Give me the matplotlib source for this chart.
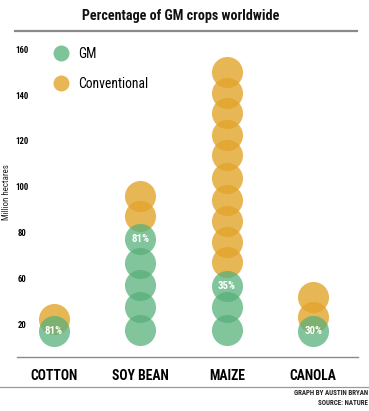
import matplotlib
matplotlib.use("Agg")
import matplotlib.pyplot as plt
from matplotlib import font_manager as fm
from matplotlib.lines import Line2D

# ---------------- data ----------------
categories = ["COTTON", "SOY BEAN", "MAIZE", "CANOLA"]
# heights (million hectares, on the chart's scale) of each stacked circle
conventional_circles = [
    [42],
    [96, 87],
    [150, 141, 132, 122.5, 114, 104, 94, 85, 76, 67],
    [52, 43],
]
gm_circles = [
    [37],
    [77, 66.5, 57, 47.5, 37.5],
    [56.5, 47.5, 37.5],
    [37],
]
gm_share_labels = ["81%", "81%", "35%", "30%"]
ytick_values = [160, 140, 120, 100, 80, 60, 40]
ytick_labels = ["160", "140", "120", "100", "80", "60", "20"]
title = "Percentage of GM crops worldwide"
ylabel = "Million hectares"
legend_labels = ["GM", "Conventional"]
credits = ["GRAPH BY AUSTIN BRYAN", "SOURCE: NATURE"]

# ---------------- font ----------------
names = {f.name for f in fm.fontManager.ttflist}
FONT = "DejaVu Sans"
STRETCH = "normal"
for cand in ["Liberation Sans Narrow", "DejaVu Sans Condensed", "Roboto Condensed",
             "Open Sans Condensed"]:
    if cand in names:
        FONT = cand
        break
else:
    if any(f.name == "DejaVu Sans" and f.stretch == "condensed" for f in fm.fontManager.ttflist):
        STRETCH = "condensed"
plt.rcParams["font.family"] = [FONT, "DejaVu Sans"]
plt.rcParams["font.stretch"] = STRETCH

# ---------------- colours ----------------
GREEN = (88 / 255, 176 / 255, 122 / 255)
ORANGE = (226 / 255, 164 / 255, 43 / 255)
GREEN_A = 0.75
ORANGE_A = 0.8
GREEN_SOLID = "#7fc499"
ORANGE_SOLID = "#e8b655"

W, H = 369, 411
fig = plt.figure(figsize=(W / 100, H / 100), dpi=100)

def fx(px):
    return px / W

def fy(py):
    return 1 - py / H

ax = fig.add_axes([0, fy(357), 1, (357 - 40) / H])
ax.set_xlim(-0.625, 3.646)
ax.set_ylim(25.6, 164.1)

marker_size = 500
for i, cat in enumerate(categories):
    conv = conventional_circles[i]
    ax.scatter([i] * len(conv), conv, s=marker_size, color=ORANGE, alpha=ORANGE_A,
               linewidths=0, zorder=2)
for i, cat in enumerate(categories):
    gm = gm_circles[i]
    ax.scatter([i] * len(gm), gm, s=marker_size, color=GREEN, alpha=GREEN_A,
               linewidths=0, zorder=3)
    ax.text(i, max(gm), gm_share_labels[i], ha="center", va="center", color="white",
            fontsize=7.8, fontweight="bold", zorder=4)

# axes styling
for side in ["top", "right", "left"]:
    ax.spines[side].set_visible(False)
ax.spines["bottom"].set_color("#8a8a8a")
ax.spines["bottom"].set_linewidth(1.0)
ax.spines["bottom"].set_bounds(-0.428, 3.519)

ax.set_xticks(range(len(categories)))
ax.set_xticklabels(categories, fontsize=9.8, fontweight="bold")
ax.tick_params(axis="x", length=0, pad=13.5)
plt.setp(ax.get_xticklabels(), va="center")

ax.set_yticks(ytick_values)
ax.set_yticklabels(ytick_labels, fontsize=6.3, fontweight="bold")
ax.tick_params(axis="y", length=0, pad=-22 * 0.72)
plt.setp(ax.get_yticklabels(), ha="center")

# legend
handles = [
    Line2D([], [], marker="o", linestyle="none", markersize=11.5,
           markerfacecolor=GREEN_SOLID, markeredgewidth=0),
    Line2D([], [], marker="o", linestyle="none", markersize=11.5,
           markerfacecolor=ORANGE_SOLID, markeredgewidth=0),
]
leg = ax.legend(handles, legend_labels, loc="upper left",
                bbox_to_anchor=(fx(54), fy(46.7)), bbox_transform=fig.transFigure,
                frameon=False, fontsize=9.8, borderpad=0, handlelength=1.0,
                handletextpad=0.8, labelspacing=1.21, borderaxespad=0)

# title and decorations
fig.text(fx(181), fy(16), title, ha="center", va="center", fontsize=10.2,
         fontweight="bold", color="#111111")
fig.add_artist(Line2D([fx(15), fx(357)], [fy(31), fy(31)], color="#8a8a8a", lw=1.6))
fig.add_artist(Line2D([0, 1], [fy(387), fy(387)], color="#9a9a9a", lw=0.9))
fig.text(fx(7), fy(192), ylabel, rotation=90, ha="center", va="center", fontsize=6.4,
         color="#222222")
fig.text(fx(368), fy(393.3), credits[0], ha="right", va="center", fontsize=5,
         fontweight="bold", color="#222222")
fig.text(fx(368), fy(403.3), credits[1], ha="right", va="center", fontsize=5,
         fontweight="bold", color="#222222")

fig.savefig("out.png", dpi=100)
